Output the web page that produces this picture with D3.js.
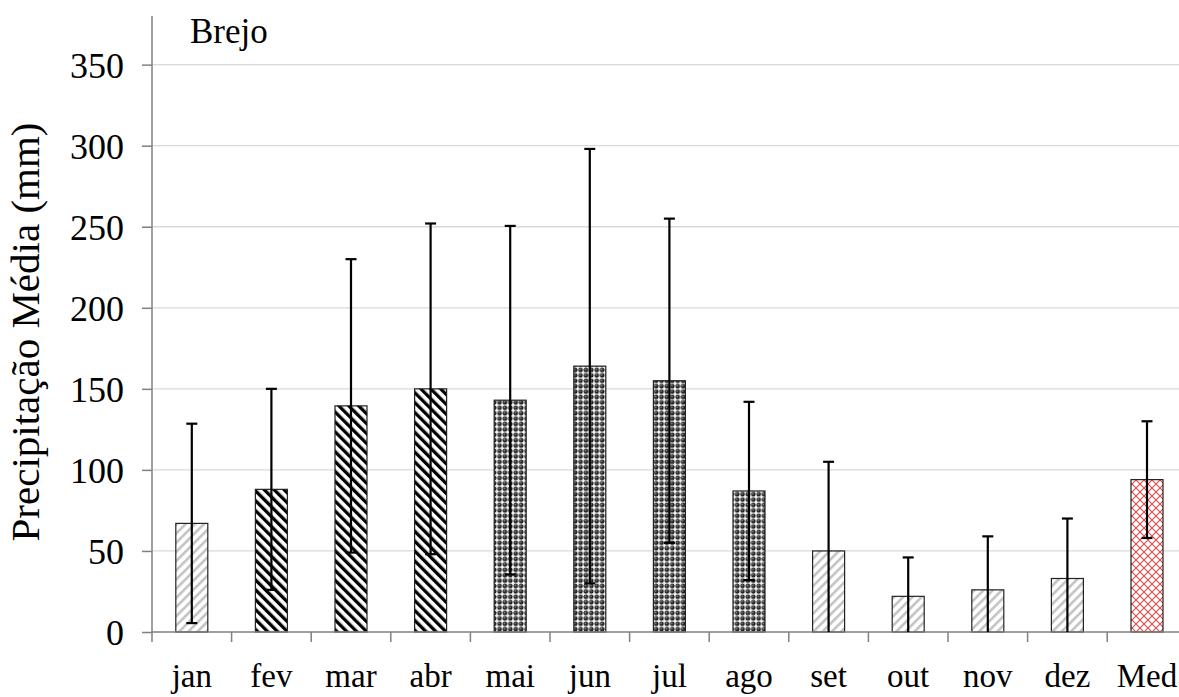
<!DOCTYPE html>
<html><head><meta charset="utf-8">
<script src="https://cdn.jsdelivr.net/npm/d3@7"></script>
<style>body{margin:0;background:#fff}svg{display:block}
text{font-family:"Liberation Serif","Times New Roman",Tinos,serif !important;fill:#000}</style>
</head><body>
<script>
const categories = ["jan","fev","mar","abr","mai","jun","jul","ago","set","out","nov","dez","Med"];
const means = [67, 88, 139.5, 150, 143, 164, 155, 87, 50, 22, 26, 33, 94];
const errors = [61.5, 62, 90.5, 102, 107.5, 134, 100, 55, 55, 24, 33, 37, 36];
const patternKeys = ["gray","black","black","black","dots","dots","dots","dots","gray","gray","gray","gray","red"];
const yTicks = [0,50,100,150,200,250,300,350];
const title = "Brejo";
const yLabel = "Precipitação Média (mm)";

const W = 1179, H = 697;
const svg = d3.select("body").append("svg").attr("width", W).attr("height", H);
const m = {left:152, top:16, bottom:632};
const plotRight = 152 + 13*79.6;

const x = d3.scaleBand().domain(categories).range([m.left, plotRight]).paddingInner(0).paddingOuter(0);
const y = d3.scaleLinear().domain([0, 380]).range([m.bottom, m.top]);

const defs = svg.append("defs");
// gray diagonal "/"
const pg = defs.append("pattern").attr("id","p-gray").attr("patternUnits","userSpaceOnUse")
  .attr("width",6.5).attr("height",6.5).attr("patternTransform","rotate(45)");
pg.append("rect").attr("width",6.5).attr("height",6.5).attr("fill","#fff");
pg.append("rect").attr("x",0).attr("width",2.6).attr("height",6.5).attr("fill","#c4c4c4");
// black diagonal "\"
const pb = defs.append("pattern").attr("id","p-black").attr("patternUnits","userSpaceOnUse")
  .attr("width",7).attr("height",7).attr("patternTransform","rotate(-45)");
pb.append("rect").attr("width",7).attr("height",7).attr("fill","#fff");
pb.append("rect").attr("x",0).attr("width",3.3).attr("height",7).attr("fill","#000");
// dots
const grad = defs.append("radialGradient").attr("id","g-ball").attr("cx","40%").attr("cy","40%").attr("r","60%");
grad.append("stop").attr("offset","0%").attr("stop-color","#8a8a8a");
grad.append("stop").attr("offset","45%").attr("stop-color","#333");
grad.append("stop").attr("offset","100%").attr("stop-color","#111");
const pd = defs.append("pattern").attr("id","p-dots").attr("patternUnits","userSpaceOnUse")
  .attr("width",5.4).attr("height",5.4);
pd.append("rect").attr("width",5.4).attr("height",5.4).attr("fill","#f4f4f4");
pd.append("circle").attr("cx",2.7).attr("cy",2.7).attr("r",2.3).attr("fill","url(#g-ball)");
// red crosshatch
const pr = defs.append("pattern").attr("id","p-red").attr("patternUnits","userSpaceOnUse")
  .attr("width",8).attr("height",8);
pr.append("rect").attr("width",8).attr("height",8).attr("fill","#fff");
pr.append("path").attr("d","M0,0L8,8M8,0L0,8").attr("stroke","#e04848").attr("stroke-width",1.1);

// gridlines
svg.append("g").selectAll("line").data(yTicks.filter(d=>d>0)).join("line")
  .attr("x1", m.left).attr("x2", W).attr("y1", d=>y(d)).attr("y2", d=>y(d))
  .attr("stroke","#d9d9d9").attr("stroke-width",1.3);

// y axis
const ya = svg.append("g").attr("transform",`translate(${m.left},0)`)
  .call(d3.axisLeft(y).tickValues(yTicks).tickSize(10).tickPadding(18).tickSizeOuter(0));
ya.select(".domain").attr("stroke","#808080").attr("stroke-width",1.5).attr("d",`M0,${m.top}V${m.bottom}`);
ya.selectAll(".tick line").attr("stroke","#808080").attr("stroke-width",1.5);
ya.selectAll(".tick text").attr("font-size",36).attr("dy","0.35em");

// bars
const data = categories.map((c,i)=>({c, v:means[i], e:errors[i], p:patternKeys[i]}));
const bw = 32;
svg.append("g").selectAll("rect").data(data).join("rect")
  .attr("x", d=>x(d.c)+x.bandwidth()/2-bw/2).attr("width", bw)
  .attr("y", d=>y(d.v)).attr("height", d=>y(0)-y(d.v))
  .attr("fill", d=>`url(#p-${d.p})`).attr("stroke","#222").attr("stroke-width",1.2);

// x axis
const xa = svg.append("g").attr("transform",`translate(0,${m.bottom})`)
  .call(d3.axisBottom(x).tickSize(0).tickPadding(32));
xa.select(".domain").attr("stroke","#808080").attr("stroke-width",1.5).attr("d",`M${m.left},0H${W}`);
xa.selectAll(".tick text").attr("font-size",33);
svg.append("g").selectAll("line").data(d3.range(categories.length+1)).join("line")
  .attr("x1", i=>m.left+i*x.bandwidth()).attr("x2", i=>m.left+i*x.bandwidth())
  .attr("y1", m.bottom).attr("y2", m.bottom+10).attr("stroke","#808080").attr("stroke-width",1.5);

// error bars
const eb = svg.append("g").attr("stroke","#000").attr("stroke-width",2.2);
data.forEach(d=>{
  const cx = x(d.c)+x.bandwidth()/2;
  const lo = Math.max(0, d.v-d.e), hi = d.v+d.e;
  eb.append("line").attr("x1",cx).attr("x2",cx).attr("y1",y(lo)).attr("y2",y(hi));
  eb.append("line").attr("x1",cx-5.5).attr("x2",cx+5.5).attr("y1",y(hi)).attr("y2",y(hi));
  if (d.v-d.e > 0) eb.append("line").attr("x1",cx-5.5).attr("x2",cx+5.5).attr("y1",y(lo)).attr("y2",y(lo));
});

// title
svg.append("text").attr("x",190).attr("y",43).text(title).attr("font-size",35);
// y label
svg.append("text").attr("transform",`translate(39,${332}) rotate(-90)`)
  .attr("text-anchor","middle").text(yLabel).attr("font-size",41);
</script>
</body></html>
